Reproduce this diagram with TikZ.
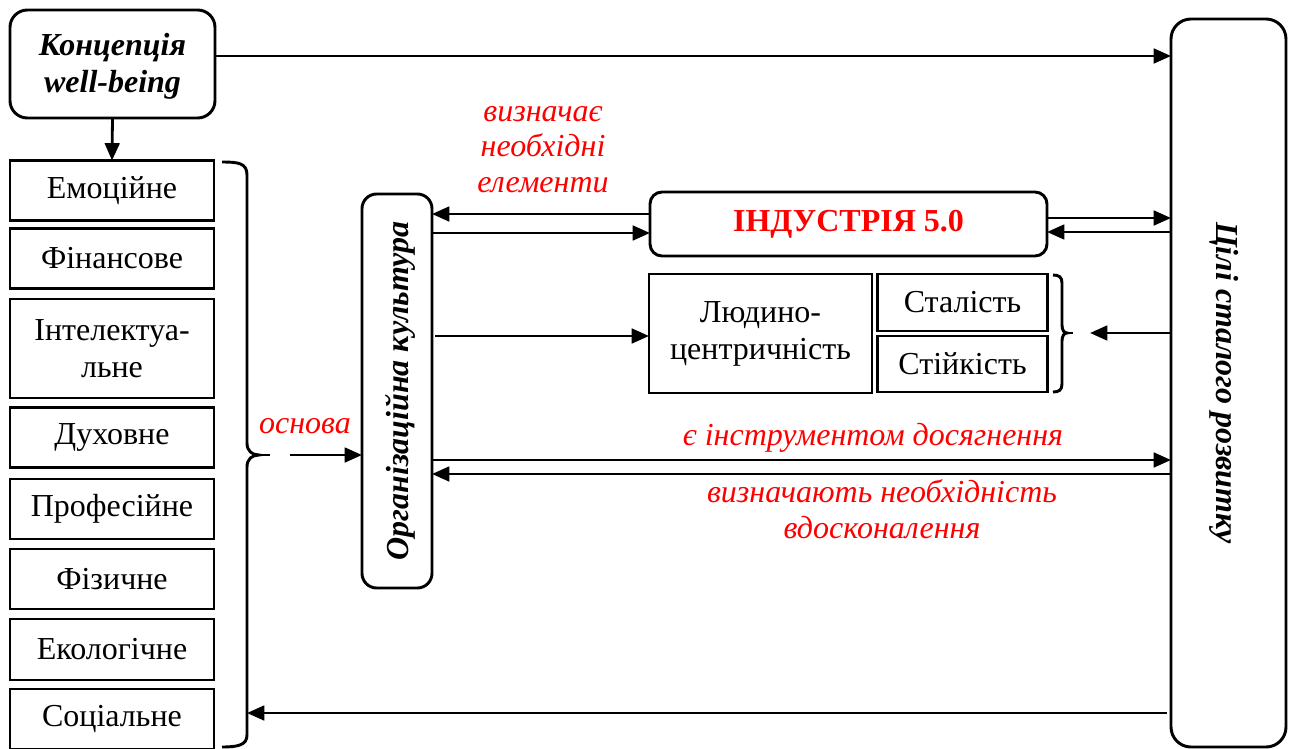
\documentclass[tikz,border=0pt]{standalone}
\usepackage{fontspec}
\usepackage{graphicx}
\setmainfont{Liberation Serif}
\usetikzlibrary{arrows.meta}
\definecolor{lblred}{RGB}{255,0,0}
\begin{document}
\begin{tikzpicture}[x=0.75pt,y=-0.75pt,
  every node/.style={inner sep=0pt, outer sep=0pt},
  txt/.style={font=\fontsize{24}{27.75}\selectfont, align=center},
  box/.style={draw, line width=2.2pt, txt},
  leftbox/.style={box, minimum width=153pt, minimum height=45pt},
  rbox/.style={box, rounded corners=11pt},
  lbl/.style={text=lblred, font=\fontsize{24}{26.5}\selectfont\itshape, align=center},
  arr/.style={line width=2.1pt, -{Triangle[length=13pt,width=11pt]}},
  brc/.style={line width=2.2pt},
]
\path[fill=white, use as bounding box] (0,0) rectangle (1292,749);

% top concept
\node[rbox, rounded corners=13pt, minimum width=153.75pt, minimum height=81pt,
      font=\fontsize{24}{27.75}\selectfont\bfseries\itshape]
  (concept) at (112.5,64) {\rule{0pt}{20pt}Концепція\\well-being};

% components of well-being
\node[leftbox] (emo)  at (112,190.5) {Емоційне};
\node[leftbox] (fin)  at (112,258.5) {Фінансове};
\node[leftbox, minimum height=74.25pt] (intl) at (112,348.5) {Інтелектуа-\\льне};
\node[leftbox] (dukh) at (112,437.5) {Духовне};
\node[leftbox] (prof) at (112,509) {Професійне};
\node[leftbox] (fiz)  at (112,579) {Фізичне};
\node[leftbox, minimum height=45.75pt] (eko) at (112,649.5) {Екологічне};
\node[leftbox] (soc)  at (112,719) {Соціальне};

% organisational culture
\node[rbox, minimum width=52.5pt, minimum height=295.5pt,
      font=\fontsize{24}{27.75}\selectfont\bfseries\itshape]
  (org) at (397,391) {\rotatebox{90}{Організаційна культура\rule{0pt}{23pt}}};

% industry 5.0 block
\node[rbox, rounded corners=9pt, minimum width=297.75pt, minimum height=48pt,
      text=lblred, font=\fontsize{24}{27.75}\selectfont\bfseries]
  (ind) at (848.5,224) {ІНДУСТРІЯ 5.0};
\node[box, minimum width=167.25pt, minimum height=89.25pt] (lud) at (760.5,333.5) {Людино-\\центричність};
\node[box, minimum width=127.5pt, minimum height=42.75pt] (stal) at (962.5,302.5) {Сталість};
\node[box, minimum width=127.5pt, minimum height=42pt] (stiy) at (962.5,364) {Стійкість};

% sustainable development goals
\node[rbox, rounded corners=15pt, minimum width=86.25pt, minimum height=546pt,
      font=\fontsize{24}{27.75}\selectfont\bfseries\itshape]
  (goal) at (1228.5,383) {\rotatebox{-90}{Цілі сталого розвитку\rule{0pt}{23pt}}};

% braces
\draw[brc] (222,162) .. controls (238,162) and (247,163) .. (247,175)
  -- (247,443) .. controls (247,451) and (252,455) .. (259,455)
  .. controls (252,455) and (247,459) .. (247,467)
  -- (247,735) .. controls (247,745) and (238,747) .. (222,747);
\coordinate (btip) at (270,455);
\draw[brc] (259,455) -- (btip);

\draw[brc] (1053,275) .. controls (1059,275) and (1062,277) .. (1062,283)
  -- (1062,325) .. controls (1062,330) and (1064,333) .. (1067,333)
  .. controls (1064,333) and (1062,336) .. (1062,341)
  -- (1062,384) .. controls (1062,390) and (1059,392) .. (1053,392);
\coordinate (sbtip) at (1073,333);
\draw[brc] (1067,333) -- (sbtip);

\coordinate (lbr) at (247,713);

% connectors
\draw[arr] (concept.east |- 0,56) -- (goal.west |- 0,56);
\draw[arr] (concept.south) -- (emo.north);
\draw[arr] (ind.west |- 0,214) -- (org.east |- 0,214);
\draw[arr] (org.east |- 0,233) -- (ind.west |- 0,233);
\draw[arr] (ind.east |- 0,218) -- (goal.west |- 0,218);
\draw[arr] (goal.west |- 0,232) -- (ind.east |- 0,232);
\draw[arr, shorten <=2.5pt] (org.east |- 0,336) -- (lud.west |- 0,336);
\draw[arr, shorten >=12.75pt] (goal.west |- sbtip) -- (sbtip);
\draw[arr] (org.east |- 0,460) -- (goal.west |- 0,460);
\draw[arr] (goal.west |- 0,474) -- (org.east |- 0,474);
\draw[arr, shorten <=3pt] (goal.west |- lbr) -- (lbr);
\draw[arr, shorten <=15pt] (btip) -- (org.west |- btip);

% labels (base anchor sits on the last line)
\node[lbl, anchor=base] (lbA) at (543,192) {визначає\\необхідні\\елементи};
\node[lbl, anchor=base] (lbB) at (305,433) {основа};
\node[lbl, anchor=base] (lbC) at (873,445) {є інструментом досягнення};
\node[lbl, anchor=base] (lbD) at (882,538) {визначають необхідність\\вдосконалення};
\end{tikzpicture}
\end{document}
